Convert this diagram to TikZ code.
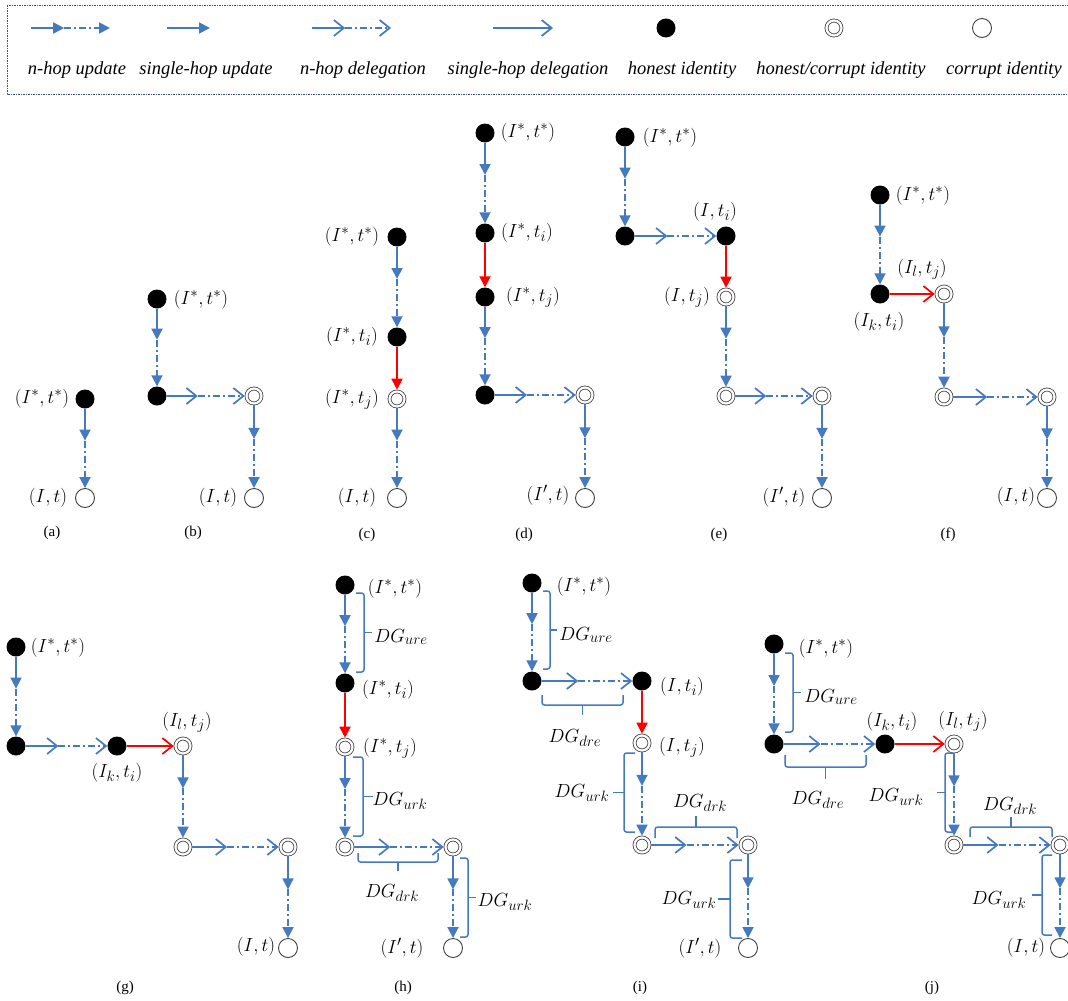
\RequirePackage{fix-cm}
\documentclass[tikz,border=0pt]{standalone}
\usepackage{fontspec}
\setmainfont{Liberation Serif}
\usepackage{amsmath}
\DeclareMathSizes{19}{19}{15}{11}
\usetikzlibrary{arrows.meta,calc}
\definecolor{lblue}{RGB}{70,122,192}
\definecolor{boxline}{RGB}{50,80,125}
\tikzstyle{honest}=[circle, fill=black, minimum size=19pt, inner sep=0pt]
\tikzstyle{hc}=[circle, draw=black!75, line width=.8pt, double, double distance=2.2pt, fill=white, minimum size=15pt, inner sep=0pt, outer sep=1.8pt]
\tikzstyle{corrupt}=[circle, draw=black!75, line width=.9pt, fill=white, minimum size=19pt, inner sep=0pt]
\tikzstyle{upd}=[lblue, line width=1.8pt, -{Triangle[length=11pt,width=11pt]}]
\tikzstyle{dlg}=[lblue, line width=1.7pt, -{Straight Barb[length=10pt,width=16pt]}]
\tikzstyle{redupd}=[red, line width=1.8pt, -{Triangle[length=11pt,width=11pt]}]
\tikzstyle{reddlg}=[red, line width=1.7pt, -{Straight Barb[length=10pt,width=16pt]}]
\tikzstyle{dashdotline}=[dash pattern=on 7pt off 3pt on 2pt off 3pt]
\tikzstyle{brc}=[lblue, line width=1.5pt, rounded corners=2.5pt]
\tikzstyle{lbl}=[font=\fontsize{19}{22}\selectfont, inner sep=0pt]
\tikzstyle{leg}=[font=\fontsize{18.5}{21}\selectfont\itshape, inner sep=0pt]
\tikzstyle{subcap}=[font=\fontsize{15}{17}\selectfont, inner sep=0pt]
% n-hop connector: solid part, tip, then dash-dot part
\newcommand{\nhop}[3]{
 \draw[#1] (#2) -- ($(#2)!.42!(#3)$);
 \draw[#1, dashdotline] ($(#2)!.42!(#3)$) -- (#3);
}
% vertical bracket: arrow side x, bracket x, top y, bottom y
\newcommand{\vbr}[4]{
 \draw[brc] (#1,#3) -- (#2,#3) -- (#2,#4) -- (#1,#4);
 \draw[brc] (#2,{(#3+#4)/2}) -- ({2*#2-#1},{(#3+#4)/2});
}
% horizontal bracket: arrow side y, bracket y, left x, right x
\newcommand{\hbr}[4]{
 \draw[brc] (#3,#1) -- (#3,#2) -- (#4,#2) -- (#4,#1);
 \draw[brc] ({(#3+#4)/2},#2) -- ({(#3+#4)/2},{2*#2-#1});
}
\begin{document}
\begin{tikzpicture}[x=1pt,y=-1pt]
 \useasboundingbox (0,0) rectangle (1068,1001);
%
% legend
 \draw[boxline, line width=.8pt, dash pattern=on 1.5pt off 1pt] (7,5) rectangle (1080,94);
 \coordinate (l1a) at (31,28); \coordinate (l1b) at (110,28);
 \coordinate (l2a) at (167,28); \coordinate (l2b) at (210,28);
 \coordinate (l3a) at (312,28); \coordinate (l3b) at (391,28);
 \coordinate (l4a) at (493,28); \coordinate (l4b) at (553,28);
 \nhop{upd}{l1a}{l1b}
 \draw[upd] (l2a) -- (l2b);
 \nhop{dlg}{l3a}{l3b}
 \draw[dlg] (l4a) -- (l4b);
 \node[honest] (l5) at (666,28) {};
 \node[hc] (l6) at (834,28) {};
 \node[corrupt] (l7) at (982,28) {};
 \node[leg] (t1) at (77,70) {n-hop update};
 \node[leg] (t2) at (206,70) {single-hop update};
 \node[leg] (t3) at (363,70) {n-hop delegation};
 \node[leg] (t4) at (528,70) {single-hop delegation};
 \node[leg] (t5) at (682,70) {honest identity};
 \node[leg] (t6) at (841,70) {honest/corrupt identity};
 \node[leg] (t7) at (1004,70) {corrupt identity};
%
% (a)
 \node[honest] (a1) at (85,399) {};
 \node[corrupt] (a2) at (85,498) {};
 \nhop{upd}{a1}{a2}
 \node[lbl] (la1) at (42,399) {$(I^*,t^*)$};
 \node[lbl] (la2) at (48,498) {$(I,t)$};
 \node[subcap] (ca) at (52,533) {(a)};
%
% (b)
 \node[honest] (b1) at (157,299) {};
 \node[honest] (b2) at (157,396) {};
 \node[hc] (b3) at (254,396) {};
 \node[corrupt] (b4) at (254,498) {};
 \nhop{upd}{b1}{b2}
 \nhop{dlg}{b2}{b3}
 \nhop{upd}{b3}{b4}
 \node[lbl] (lb1) at (201,300) {$(I^*,t^*)$};
 \node[lbl] (lb2) at (218,498) {$(I,t)$};
 \node[subcap] (cb) at (193,533) {(b)};
%
% (c)
 \node[honest] (c1) at (397,237) {};
 \node[honest] (c2) at (397,337) {};
 \node[hc] (c3) at (397,399) {};
 \node[corrupt] (c4) at (397,498) {};
 \nhop{upd}{c1}{c2}
 \draw[redupd] (c2) -- (c3);
 \nhop{upd}{c3}{c4}
 \node[lbl] (lc1) at (352,237) {$(I^*,t^*)$};
 \node[lbl] (lc2) at (352,337) {$(I^*,t_i)$};
 \node[lbl] (lc3) at (352,399) {$(I^*,t_j)$};
 \node[lbl] (lc4) at (357,498) {$(I,t)$};
 \node[subcap] (cc) at (367,535) {(c)};
%
% (d)
 \node[honest] (d1) at (485,133) {};
 \node[honest] (d2) at (485,233) {};
 \node[honest] (d3) at (485,297) {};
 \node[honest] (d4) at (485,395) {};
 \node[hc] (d5) at (585,395) {};
 \node[corrupt] (d6) at (585,498) {};
 \nhop{upd}{d1}{d2}
 \draw[redupd] (d2) -- (d3);
 \nhop{upd}{d3}{d4}
 \nhop{dlg}{d4}{d5}
 \nhop{upd}{d5}{d6}
 \node[lbl] (ld1) at (528,133) {$(I^*,t^*)$};
 \node[lbl] (ld2) at (527,233) {$(I^*,t_i)$};
 \node[lbl] (ld3) at (533,297) {$(I^*,t_j)$};
 \node[lbl] (ld4) at (548,495) {$(I',t)$};
 \node[subcap] (cd) at (524,535) {(d)};
%
% (e)
 \node[honest] (e1) at (625,137) {};
 \node[honest] (e2) at (625,236) {};
 \node[honest] (e3) at (726,236) {};
 \node[hc] (e4) at (726,297) {};
 \node[hc] (e5) at (726,396) {};
 \node[hc] (e6) at (822,396) {};
 \node[corrupt] (e7) at (822,498) {};
 \nhop{upd}{e1}{e2}
 \nhop{dlg}{e2}{e3}
 \draw[redupd] (e3) -- (e4);
 \nhop{upd}{e4}{e5}
 \nhop{dlg}{e5}{e6}
 \nhop{upd}{e6}{e7}
 \node[lbl] (le1) at (670,138) {$(I^*,t^*)$};
 \node[lbl] (le2) at (715,212) {$(I,t_i)$};
 \node[lbl] (le3) at (687,297) {$(I,t_j)$};
 \node[lbl] (le4) at (784,497) {$(I',t)$};
 \node[subcap] (ce) at (719,535) {(e)};
%
% (f)
 \node[honest] (f1) at (880,195) {};
 \node[honest] (f2) at (880,294) {};
 \node[hc] (f3) at (944,294) {};
 \node[hc] (f4) at (944,397) {};
 \node[hc] (f5) at (1047,397) {};
 \node[corrupt] (f6) at (1047,498) {};
 \nhop{upd}{f1}{f2}
 \draw[reddlg] (f2) -- (f3);
 \nhop{upd}{f3}{f4}
 \nhop{dlg}{f4}{f5}
 \nhop{upd}{f5}{f6}
 \node[lbl] (lf1) at (923,196) {$(I^*,t^*)$};
 \node[lbl] (lf2) at (879,322) {$(I_k,t_i)$};
 \node[lbl] (lf3) at (922,269) {$(I_l,t_j)$};
 \node[lbl] (lf4) at (1016,497) {$(I,t)$};
 \node[subcap] (cf) at (948,535) {(f)};
%
% (g)
 \node[honest] (g1) at (16,647) {};
 \node[honest] (g2) at (16,746) {};
 \node[honest] (g3) at (117,746) {};
 \node[hc] (g4) at (183,746) {};
 \node[hc] (g5) at (183,847) {};
 \node[hc] (g6) at (288,847) {};
 \node[corrupt] (g7) at (288,948) {};
 \nhop{upd}{g1}{g2}
 \nhop{dlg}{g2}{g3}
 \draw[reddlg] (g3) -- (g4);
 \nhop{upd}{g4}{g5}
 \nhop{dlg}{g5}{g6}
 \nhop{upd}{g6}{g7}
 \node[lbl] (lg1) at (58,648) {$(I^*,t^*)$};
 \node[lbl] (lg2) at (117,773) {$(I_k,t_i)$};
 \node[lbl] (lg3) at (187,722) {$(I_l,t_j)$};
 \node[lbl] (lg4) at (256,947) {$(I,t)$};
 \node[subcap] (cg) at (125,988) {(g)};
%
% (h)
 \node[honest] (h1) at (345,585) {};
 \node[honest] (h2) at (345,683) {};
 \node[hc] (h3) at (345,747) {};
 \node[hc] (h4) at (345,847) {};
 \node[hc] (h5) at (453,847) {};
 \node[corrupt] (h6) at (453,948) {};
 \nhop{upd}{h1}{h2}
 \draw[redupd] (h2) -- (h3);
 \nhop{upd}{h3}{h4}
 \nhop{dlg}{h4}{h5}
 \nhop{upd}{h5}{h6}
 \vbr{356}{364}{593}{672}
 \vbr{353}{363}{757}{836}
 \hbr{853}{862}{358}{438}
 \vbr{460}{468}{858}{937}
 \node[lbl] (lh1) at (395,589) {$(I^*,t^*)$};
 \node[lbl] (lh2) at (388,690) {$(I^*,t_i)$};
 \node[lbl] (lh3) at (390,748) {$(I^*,t_j)$};
 \node[lbl] (lh4) at (402,948) {$(I',t)$};
 \node[lbl] (gh1) at (401,637) {$DG_{ure}$};
 \node[lbl] (gh2) at (400,801) {$DG_{urk}$};
 \node[lbl] (gh3) at (392,893) {$DG_{drk}$};
 \node[lbl] (gh4) at (505,902) {$DG_{urk}$};
 \node[subcap] (ch) at (403,988) {(h)};
%
% (i)
 \node[honest] (i1) at (532,583) {};
 \node[honest] (i2) at (532,681) {};
 \node[honest] (i3) at (642,681) {};
 \node[hc] (i4) at (642,743) {};
 \node[hc] (i5) at (642,845) {};
 \node[hc] (i6) at (748,845) {};
 \node[corrupt] (i7) at (748,948) {};
 \nhop{upd}{i1}{i2}
 \nhop{dlg}{i2}{i3}
 \draw[redupd] (i3) -- (i4);
 \nhop{upd}{i4}{i5}
 \nhop{dlg}{i5}{i6}
 \nhop{upd}{i6}{i7}
 \vbr{543}{550}{591}{669}
 \hbr{695}{705}{542}{623}
 \vbr{635}{624}{753}{832}
 \hbr{838}{827}{655}{737}
 \vbr{742}{730}{860}{938}
 \node[lbl] (li1) at (584,587) {$(I^*,t^*)$};
 \node[lbl] (li2) at (682,687) {$(I,t_i)$};
 \node[lbl] (li3) at (682,747) {$(I,t_j)$};
 \node[lbl] (li4) at (700,948) {$(I',t)$};
 \node[lbl] (gi1) at (586,635) {$DG_{ure}$};
 \node[lbl] (gi2) at (575,738) {$DG_{dre}$};
 \node[lbl] (gi3) at (582,793) {$DG_{urk}$};
 \node[lbl] (gi4) at (700,803) {$DG_{drk}$};
 \node[lbl] (gi5) at (689,900) {$DG_{urk}$};
 \node[subcap] (ci) at (640,988) {(i)};
%
% (j)
 \node[honest] (j1) at (774,644) {};
 \node[honest] (j2) at (774,744) {};
 \node[honest] (j3) at (885,744) {};
 \node[hc] (j4) at (954,744) {};
 \node[hc] (j5) at (954,845) {};
 \node[hc] (j6) at (1060,845) {};
 \node[corrupt] (j7) at (1060,948) {};
 \nhop{upd}{j1}{j2}
 \nhop{dlg}{j2}{j3}
 \draw[reddlg] (j3) -- (j4);
 \nhop{upd}{j4}{j5}
 \nhop{dlg}{j5}{j6}
 \nhop{upd}{j6}{j7}
 \vbr{785}{793}{653}{732}
 \hbr{755}{767}{785}{866}
 \vbr{953}{945}{753}{832}
 \hbr{837}{827}{970}{1052}
 \vbr{1052}{1042}{855}{935}
 \node[lbl] (lj1) at (826,649) {$(I^*,t^*)$};
 \node[lbl] (lj2) at (892,722) {$(I_k,t_i)$};
 \node[lbl] (lj3) at (963,721) {$(I_l,t_j)$};
 \node[lbl] (lj4) at (1026,948) {$(I,t)$};
 \node[lbl] (gj1) at (831,697) {$DG_{ure}$};
 \node[lbl] (gj2) at (818,800) {$DG_{dre}$};
 \node[lbl] (gj3) at (896,797) {$DG_{urk}$};
 \node[lbl] (gj4) at (1010,806) {$DG_{drk}$};
 \node[lbl] (gj5) at (999,900) {$DG_{urk}$};
 \node[subcap] (cj) at (932,988) {(j)};
\end{tikzpicture}
\end{document}
